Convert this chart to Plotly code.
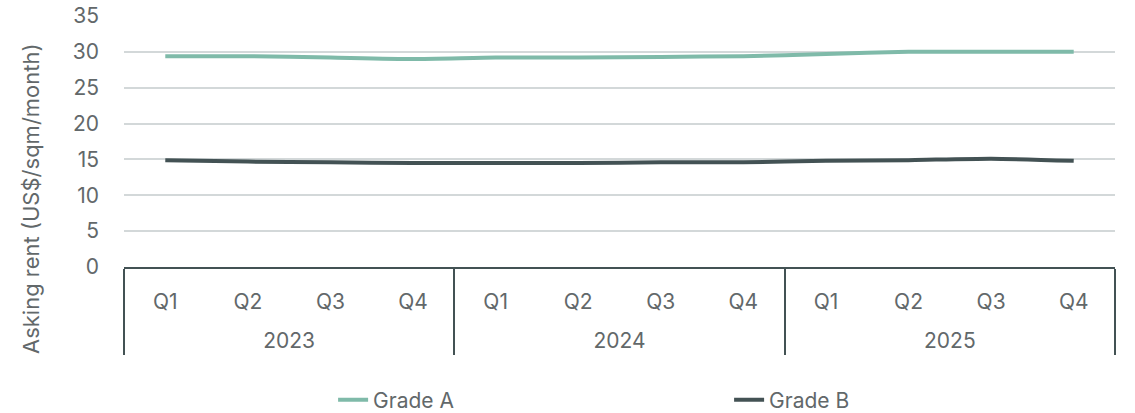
import plotly.graph_objects as go

years = ["2023"] * 4 + ["2024"] * 4 + ["2025"] * 4
quarters = ["Q1", "Q2", "Q3", "Q4"] * 3
grade_a = [29.4, 29.4, 29.2, 29.0, 29.2, 29.2, 29.3, 29.4, 29.7, 30.0, 30.0, 30.0]
grade_b = [14.9, 14.7, 14.6, 14.5, 14.5, 14.5, 14.6, 14.6, 14.8, 14.9, 15.1, 14.8]

font_family = "Inter, Lato, sans-serif"
text_color = "#62686a"
dark = "#435254"

# quarter labels get a blank second line so the year row sits lower, as in the reference
quarter_labels = [q + "<br> " for q in quarters]

fig = go.Figure()
fig.add_trace(go.Scatter(x=[years, quarter_labels], y=grade_a, name="Grade A", mode="lines",
                         line=dict(color="#7fbaa9", width=4, shape="spline", smoothing=0.6)))
fig.add_trace(go.Scatter(x=[years, quarter_labels], y=grade_b, name="Grade B", mode="lines",
                         line=dict(color=dark, width=4, shape="spline", smoothing=0.6)))

fig.update_layout(
    width=1135, height=413,
    margin=dict(l=124, r=20, t=16, b=146, autoexpand=False),
    paper_bgcolor="white", plot_bgcolor="white",
    font=dict(family=font_family, size=21, color=text_color),
    showlegend=True,
    legend=dict(orientation="h", x=0.211, xanchor="left", y=-0.53, yanchor="middle",
                entrywidth=351, entrywidthmode="pixels",
                font=dict(size=21, color=text_color)),
    xaxis=dict(type="multicategory", range=[-0.5, 11.5], automargin=False,
               showline=True, linecolor=dark, linewidth=2,
               showdividers=True, dividercolor=dark, dividerwidth=2,
               ticklabelstandoff=15,
               showgrid=False, tickfont=dict(size=21, color=text_color)),
    yaxis=dict(range=[0, 35], dtick=5, showgrid=True, gridcolor="#d3d8d9", gridwidth=2,
               zeroline=False, showline=False, ticklabelstandoff=24, automargin=False,
               tickfont=dict(size=21, color=text_color)),
    annotations=[dict(text="Asking rent (US$/sqm/month)", textangle=-90,
                      xref="paper", yref="paper", x=-0.0938, y=0.271,
                      xanchor="center", yanchor="middle", showarrow=False,
                      font=dict(size=22, color=text_color))],
)

fig.write_html("out.html")
